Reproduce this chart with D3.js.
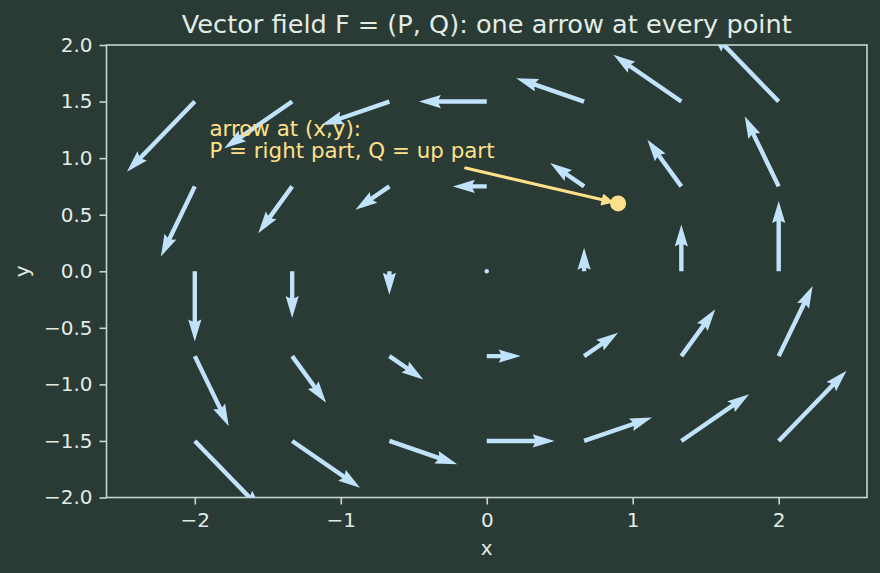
<!DOCTYPE html>
<html>
<head>
<meta charset="utf-8">
<script src="https://cdn.jsdelivr.net/npm/d3@7"></script>
<style>
  html, body { margin: 0; padding: 0; background: #2a3a34; }
  svg { display: block; }
  text { font-family: "DejaVu Sans", sans-serif; }
</style>
</head>
<body>
<svg id="chart" width="880" height="573"></svg>
<script>
// ---- data ----
const gridX = [-2, -1.333, -0.667, 0, 0.667, 1.333, 2];
const gridY = [-1.5, -0.75, 0, 0.75, 1.5];
// P (right part) for each row of gridY, Q (up part) for each row
const P = [
  [1.5, 1.5, 1.5, 1.5, 1.5, 1.5, 1.5],
  [0.75, 0.75, 0.75, 0.75, 0.75, 0.75, 0.75],
  [0, 0, 0, 0, 0, 0, 0],
  [-0.75, -0.75, -0.75, -0.75, -0.75, -0.75, -0.75],
  [-1.5, -1.5, -1.5, -1.5, -1.5, -1.5, -1.5]
];
const Q = [
  [-2, -1.333, -0.667, 0, 0.667, 1.333, 2],
  [-2, -1.333, -0.667, 0, 0.667, 1.333, 2],
  [-2, -1.333, -0.667, 0, 0.667, 1.333, 2],
  [-2, -1.333, -0.667, 0, 0.667, 1.333, 2],
  [-2, -1.333, -0.667, 0, 0.667, 1.333, 2]
];
const arrowScale = 0.31;           // data units of arrow per unit of (P,Q)
const xTicks = [-2, -1, 0, 1, 2];
const yTicks = [-2.0, -1.5, -1.0, -0.5, 0.0, 0.5, 1.0, 1.5, 2.0];
const xDomain = [-2.605, 2.605];
const yDomain = [-2, 2];
const annotPoint = [0.9, 0.6];
const annotTextPos = [-1.9, 1.0];
const annotLines = ["arrow at (x,y):", "P = right part, Q = up part"];
const titleText = "Vector field F = (P, Q): one arrow at every point";

// ---- style ----
const BG = "#2a3a34";
const FG = "#e2ece6";
const SPINE = "#c5d8cd";
const ARROW = "#c0e2fb";
const ANNOT = "#ffe08a";

const svg = d3.select("#chart");
svg.append("rect").attr("width", 880).attr("height", 573).attr("fill", BG);

const mLeft = 106.5, mRight = 867, mTop = 45, mBottom = 497.5;
const x = d3.scaleLinear().domain(xDomain).range([mLeft, mRight]);
const y = d3.scaleLinear().domain(yDomain).range([mBottom, mTop]);

svg.append("defs").append("clipPath").attr("id", "clip")
  .append("rect").attr("x", mLeft).attr("y", mTop)
  .attr("width", mRight - mLeft).attr("height", mBottom - mTop);

const fmtMinus = s => s.replace("-", "\u2212");

// axes
const xAxis = d3.axisBottom(x).tickValues(xTicks)
  .tickFormat(d => fmtMinus(d3.format("d")(d))).tickSize(7).tickPadding(7);
const yAxis = d3.axisLeft(y).tickValues(yTicks)
  .tickFormat(d => fmtMinus(d3.format(".1f")(d))).tickSize(7).tickPadding(7);

const gx = svg.append("g").attr("transform", `translate(0,${mBottom})`).call(xAxis);
const gy = svg.append("g").attr("transform", `translate(${mLeft},0)`).call(yAxis);
[gx, gy].forEach(g => {
  g.select(".domain").remove();
  g.selectAll(".tick line").attr("stroke", SPINE).attr("stroke-width", 1.6);
  g.selectAll(".tick text").attr("fill", FG).attr("font-size", 20)
    .attr("font-family", "DejaVu Sans");
});
gx.selectAll(".tick text").attr("dy", "0.76em");

// frame
svg.append("rect").attr("x", mLeft).attr("y", mTop)
  .attr("width", mRight - mLeft).attr("height", mBottom - mTop)
  .attr("fill", "none").attr("stroke", SPINE).attr("stroke-width", 1.6);

// quiver arrows
const w = 4.4, hw = 3 * w, hl = 5 * w, hal = 4.5 * w;
const gq = svg.append("g").attr("clip-path", "url(#clip)");
gridY.forEach((yy, i) => {
  gridX.forEach((xx, j) => {
    const x0 = x(xx), y0 = y(yy);
    const x1 = x(xx + arrowScale * P[i][j]), y1 = y(yy + arrowScale * Q[i][j]);
    const L = Math.hypot(x1 - x0, y1 - y0);
    if (L < w) {
      gq.append("circle").attr("cx", x0).attr("cy", y0).attr("r", 2.2).attr("fill", ARROW);
      return;
    }
    const k = L < hl ? L / hl : 1;
    const HL = hl * k, HAL = hal * k, HW = hw * k;
    const pts = [
      [0, w / 2], [L - HAL, w / 2], [L - HL, HW / 2], [L, 0],
      [L - HL, -HW / 2], [L - HAL, -w / 2], [0, -w / 2]
    ];
    const ang = Math.atan2(y1 - y0, x1 - x0) * 180 / Math.PI;
    gq.append("polygon")
      .attr("points", pts.map(p => p.join(",")).join(" "))
      .attr("transform", `translate(${x0},${y0}) rotate(${ang})`)
      .attr("fill", ARROW);
  });
});

// annotation text
const tx = x(annotTextPos[0]), ty = y(annotTextPos[1]);
const lineGap = 22;
const at = svg.append("text").attr("fill", ANNOT).attr("font-size", 21.4);
annotLines.forEach((s, i) => {
  at.append("tspan").attr("x", tx)
    .attr("y", ty - (annotLines.length - 1 - i) * lineGap).text(s);
});
const bb0 = at.node().getBBox();
const bb = { x: bb0.x, y: bb0.y, width: bb0.width, height: bb0.height + 4 };

// annotation arrow from text bbox edge to point
const px = x(annotPoint[0]), py = y(annotPoint[1]);
const cx = bb.x + bb.width / 2, cy = bb.y + bb.height / 2;
const dx = px - cx, dy = py - cy;
let tEdge = Infinity;
if (dx !== 0) tEdge = Math.min(tEdge, (dx > 0 ? bb.x + bb.width - cx : bb.x - cx) / dx);
if (dy !== 0) tEdge = Math.min(tEdge, (dy > 0 ? bb.y + bb.height - cy : bb.y - cy) / dy);
const D = Math.hypot(dx, dy), ux = dx / D, uy = dy / D;
const sx = cx + dx * tEdge + ux * 4, sy = cy + dy * tEdge + uy * 4;
const ex = px - ux * 6, ey = py - uy * 6;
const headL = 10, headW = 5;
const bx = ex - ux * headL, by = ey - uy * headL;
svg.append("line").attr("x1", sx).attr("y1", sy).attr("x2", bx + ux * 1).attr("y2", by + uy * 1)
  .attr("stroke", ANNOT).attr("stroke-width", 3.2).attr("stroke-linecap", "round");
svg.append("polygon")
  .attr("points", [[ex, ey], [bx - uy * headW, by + ux * headW], [bx + uy * headW, by - ux * headW]]
    .map(p => p.join(",")).join(" "))
  .attr("fill", ANNOT).attr("stroke", ANNOT).attr("stroke-width", 1.5).attr("stroke-linejoin", "round");
svg.append("circle").attr("cx", px).attr("cy", py).attr("r", 8).attr("fill", ANNOT);

// title and axis labels
svg.append("text").attr("x", (mLeft + mRight) / 2).attr("y", 33)
  .attr("text-anchor", "middle").attr("fill", FG).attr("font-size", 25.6).text(titleText);
svg.append("text").attr("x", (mLeft + mRight) / 2).attr("y", 555)
  .attr("text-anchor", "middle").attr("fill", FG).attr("font-size", 20).text("x");
svg.append("text").attr("transform", `translate(29,${(mTop + mBottom) / 2}) rotate(-90)`)
  .attr("text-anchor", "middle").attr("fill", FG).attr("font-size", 20).text("y");
</script>
</body>
</html>
